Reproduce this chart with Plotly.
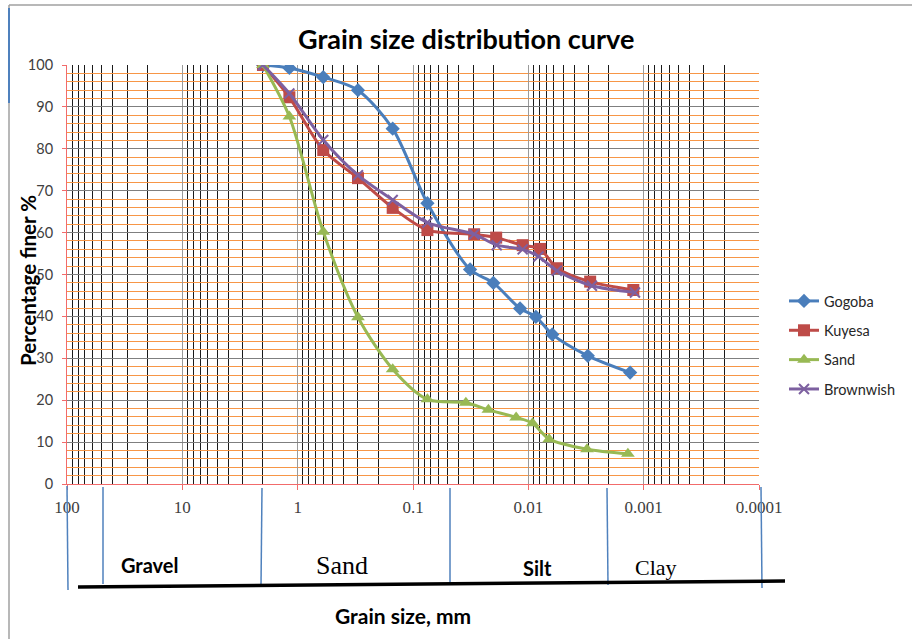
import plotly.graph_objects as go

# ---------------- data ----------------
gogoba_size = [2.0, 1.18, 0.6, 0.3, 0.15, 0.075, 0.032, 0.0201, 0.0118, 0.0086, 0.0062, 0.00305, 0.00131]
gogoba_pct = [100, 99.3, 97.1, 94.0, 84.8, 67.0, 51.2, 48.0, 41.9, 39.9, 35.7, 30.6, 26.6]

kuyesa_size = [2.0, 1.18, 0.6, 0.3, 0.15, 0.075, 0.0295, 0.019, 0.0112, 0.0079, 0.00566, 0.00291, 0.00123]
kuyesa_pct = [100, 92.3, 79.7, 73.0, 65.9, 60.6, 59.6, 58.8, 57.0, 56.1, 51.5, 48.3, 46.3]

sand_size = [2.0, 1.18, 0.6, 0.3, 0.15, 0.075, 0.0348, 0.0222, 0.01276, 0.0092, 0.0066, 0.0031, 0.00137]
sand_pct = [100, 87.7, 60.2, 39.8, 27.4, 20.2, 19.4, 17.7, 15.9, 14.5, 10.7, 8.3, 7.2]

brown_size = [2.0, 1.18, 0.6, 0.3, 0.15, 0.075, 0.0295, 0.0188, 0.0112, 0.00817, 0.00566, 0.00281, 0.00119]
brown_pct = [100, 93.2, 82.1, 73.7, 67.8, 62.4, 59.6, 57.0, 56.0, 54.3, 50.9, 47.3, 45.7]

x_tick_vals = [100, 10, 1, 0.1, 0.01, 0.001, 0.0001]
x_tick_text = ["100", "10", "1", "0.1", "0.01", "0.001", "0.0001"]
zone_labels = ["Gravel", "Sand", "Silt", "Clay"]

# ---------------- figure ----------------
W, H = 912, 639
L, R, T, B = 67, 759, 65, 484


def px(xp):
    return (xp - L) / (R - L)


def py(yp):
    return (B - yp) / (B - T)


fig = go.Figure()

series = [
    ("Gogoba", gogoba_size, gogoba_pct, "#4A7EBB", "diamond", 11, None),
    ("Kuyesa", kuyesa_size, kuyesa_pct, "#BE4B48", "square", 12, None),
    ("Sand", sand_size, sand_pct, "#98B954", "triangle-up", 12, None),
    ("Brownwish", brown_size, brown_pct, "#7D60A0", "x-thin", 10, 2),
]
for name, xs, ys, col, sym, size, lw in series:
    marker = dict(symbol=sym, size=size, color=col)
    if lw:
        marker["line"] = dict(color=col, width=lw)
    fig.add_trace(go.Scatter(
        x=xs, y=ys, mode="lines+markers", name=name, legendgroup=name,
        line=dict(color=col, width=3, shape="spline", smoothing=0.8),
        marker=marker,
    ))

minor_x = [d * 10.0 ** e for e in range(-4, 2) for d in range(2, 10)]

fig.update_xaxes(
    type="log", range=[2, -4],
    tickvals=x_tick_vals, ticktext=x_tick_text,
    showgrid=True, gridcolor="#9A9A9A", gridwidth=1,
    minor=dict(tickvals=minor_x, showgrid=True, gridcolor="#1A1A1A", gridwidth=1, ticks=""),
    showline=True, linecolor="#F26B6B", linewidth=1,
    ticks="outside", tickcolor="#F26B6B", ticklen=5,
    ticklabelstandoff=3,
    tickfont=dict(family="Liberation Serif", size=17, color="#404040"),
    zeroline=False,
)
fig.update_yaxes(
    range=[0, 100], dtick=10, tick0=0,
    showgrid=True, gridcolor="#7F7F7F", gridwidth=1,
    minor=dict(dtick=2, showgrid=True, gridcolor="#F79646", gridwidth=1, ticks=""),
    showline=True, linecolor="#F26B6B", linewidth=1,
    ticks="outside", tickcolor="#F26B6B", ticklen=4,
    ticklabelstandoff=6,
    tickfont=dict(family="Lato", size=14.5, color="#404040"),
    zeroline=False,
)

annotations = [
    dict(text="<b>Grain size distribution curve</b>", x=px(466), y=py(38),
         font=dict(family="Lato", size=27, color="black")),
    dict(text="<b>Percentage finer %</b>", x=px(28), y=py(281), textangle=-90,
         font=dict(family="Lato", size=20.5, color="black")),
    dict(text="<b>" + zone_labels[0] + "</b>", x=px(150), y=py(565),
         font=dict(family="Lato", size=20, color="black")),
    dict(text=zone_labels[1], x=px(342), y=py(565),
         font=dict(family="Liberation Serif", size=26, color="black")),
    dict(text="<b>" + zone_labels[2] + "</b>", x=px(537), y=py(568),
         font=dict(family="Lato", size=20, color="black")),
    dict(text=zone_labels[3], x=px(656), y=py(567),
         font=dict(family="Liberation Serif", size=22, color="black")),
    dict(text="<b>Grain size, mm</b>", x=px(403), y=py(615),
         font=dict(family="Lato", size=21, color="black")),
]
for a in annotations:
    a.update(xref="paper", yref="paper", showarrow=False, xanchor="center", yanchor="middle")

shapes = []
blue_lines = [((67, 486), (68, 590)), ((103, 487), (103, 584)), ((262, 488), (261, 586)),
              ((450, 488), (450, 584)), ((607, 488), (608, 585)), ((761, 487), (762, 588))]
for (x0, y0), (x1, y1) in blue_lines:
    shapes.append(dict(type="line", xref="paper", yref="paper", x0=px(x0), y0=py(y0), x1=px(x1), y1=py(y1),
                       line=dict(color="#4F81BD", width=1.5)))
shapes.append(dict(type="line", xref="paper", yref="paper", x0=px(78), y0=py(587), x1=px(785), y1=py(581),
                   line=dict(color="black", width=3.5)))
# frame
shapes.append(dict(type="line", xref="paper", yref="paper", x0=px(9), y0=py(5), x1=px(912), y1=py(5),
                   line=dict(color="#A0A0A0", width=1.5)))
shapes.append(dict(type="line", xref="paper", yref="paper", x0=px(9), y0=py(5), x1=px(9), y1=py(639),
                   line=dict(color="#A0A0A0", width=1.5)))
shapes.append(dict(type="line", xref="paper", yref="paper", x0=px(9), y0=py(8), x1=px(9), y1=py(103),
                   line=dict(color="#4F81BD", width=2)))

fig.update_layout(
    width=W, height=H,
    margin=dict(l=L, r=W - R, t=T, b=H - B),
    paper_bgcolor="white", plot_bgcolor="white",
    showlegend=True,
    legend=dict(x=px(784), y=py(345), xanchor="left", yanchor="middle",
                font=dict(family="Lato", size=14.5, color="#262626"),
                tracegroupgap=7.5, bgcolor="rgba(0,0,0,0)"),
    annotations=annotations, shapes=shapes,
)

fig.write_html("out.html")
